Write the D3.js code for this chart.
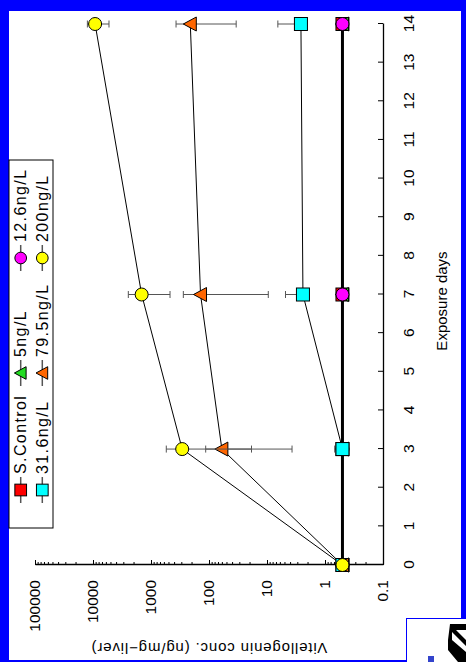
<!DOCTYPE html>
<html>
<head>
<meta charset="utf-8">
<script src="https://cdn.jsdelivr.net/npm/d3@7"></script>
<style>
body { margin: 0; background: #0000ff; }
svg { display: block; }
</style>
</head>
<body>
<div id="chart"></div>
<script>
const days = [0, 3, 7, 14];
const seriesNames = ["S.Control", "5ng/L", "12.6ng/L", "31.6ng/L", "79.5ng/L", "200ng/L"];
// mean vitellogenin per exposure day (ng/mg-liver)
const sControl = [0.5, 0.5, 0.5, 0.5];
const ng5 = [0.5, 0.5, 0.5, 0.5];
const ng12 = [0.5, 0.5, 0.5, 0.5];
const ng31 = [0.5, 0.5, 2.4, 2.6];
const ng79 = [0.5, 60, 140, 210];
const ng200 = [0.5, 290, 1450, 9200];
// error bar ends [low, high] per day (null = not drawn)
const noErr = [null, null, null, null];
const ng31Err = [null, [null, 0.68], [null, 4.8], [null, 6.5]];
const ng79Err = [null, [3.7, 114], [9.5, 277], [34, 370]];
const ng200Err = [null, [18.5, 545], [470, 2460], [5300, 12500]];
const yTicks = [0.1, 1, 10, 100, 1000, 10000, 100000];
const xTicks = [0, 1, 2, 3, 4, 5, 6, 7, 8, 9, 10, 11, 12, 13, 14];

const colors = ["#ff0000", "#22dd22", "#ff00ff", "#00ffff", "#ff6600", "#ffff00"];
const shapes = ["square", "triangle", "circle", "square", "triangle", "circle"];
const values = [sControl, ng5, ng12, ng31, ng79, ng200];
const errors = [noErr, noErr, noErr, ng31Err, ng79Err, ng200Err];

const W = 466, H = 662;
const font = "'Liberation Sans', Arial, sans-serif";

const svg = d3.select("#chart").append("svg")
  .attr("width", W)
  .attr("height", H);

svg.append("rect").attr("width", W).attr("height", H).attr("fill", "#0000ff");
svg.append("rect").attr("x", 9).attr("y", 11).attr("width", 452).attr("height", 649).attr("fill", "#fff");

// the whole chart is drawn turned a quarter turn counter-clockwise
const g = svg.append("g").attr("transform", `translate(0,${H}) rotate(-90)`);

const x = d3.scaleLinear().domain([0, 14]).range([97, 638]);
const y = d3.scaleLog().domain([0.1, 100000]).range([383, 35]);

const xAxis = g.append("g")
  .attr("transform", "translate(0,383)")
  .call(d3.axisBottom(x).tickValues(xTicks).tickSizeInner(-5).tickSizeOuter(0).tickPadding(20).tickFormat(d3.format("d")));

const yAxis = g.append("g")
  .attr("transform", `translate(${x(0)},0)`)
  .call(d3.axisLeft(y).tickValues(yTicks).tickSizeInner(-5).tickSizeOuter(0).tickPadding(15).tickFormat(d => d));

const minor = yTicks.slice(0, -1).flatMap(t => [2, 3, 4, 5, 6, 7, 8, 9].map(k => t * k));
g.append("g")
  .attr("transform", `translate(${x(0)},0)`)
  .call(d3.axisLeft(y).tickValues(minor).tickSizeInner(-3).tickSizeOuter(0).tickFormat(""))
  .call(a => a.select(".domain").remove());

g.selectAll(".tick line").attr("stroke", "#000").attr("stroke-width", 1);
g.selectAll(".domain").attr("stroke", "#000").attr("stroke-width", 1.3);
[xAxis, yAxis].forEach(a => a.attr("font-size", 15.5).attr("font-family", font));
g.selectAll(".tick text").attr("fill", "#000");

g.append("text")
  .attr("x", 361).attr("y", 447)
  .attr("text-anchor", "middle")
  .attr("font-family", font).attr("font-size", 15)
  .text("Exposure days");

g.append("text")
  .attr("transform", `translate(19,${(y.range()[0] + y.range()[1]) / 2}) rotate(-90)`)
  .attr("text-anchor", "middle")
  .attr("font-family", font).attr("font-size", 15)
  .attr("letter-spacing", 0.85)
  .text("Vitellogenin conc. (ng/mg\u2212liver)");

function marker(sel, shape, color, k) {
  if (shape === "square") {
    sel.append("rect").attr("x", -6.5 * k).attr("y", -6.5 * k).attr("width", 13 * k).attr("height", 13 * k);
  } else if (shape === "circle") {
    sel.append("circle").attr("r", 6.5 * k);
  } else {
    sel.append("path").attr("d", `M0,${-7 * k}L${7 * k},${6 * k}L${-7 * k},${6 * k}Z`);
  }
  sel.selectAll("*").attr("fill", color).attr("stroke", "#000").attr("stroke-width", 1);
}

const line = d3.line().x((d, i) => x(days[i])).y(d => y(d));

values.forEach((vals, s) => {
  g.append("path")
    .datum(vals)
    .attr("d", line)
    .attr("fill", "none")
    .attr("stroke", "#000")
    .attr("stroke-width", s === 0 ? 3 : 1);
});

values.forEach((vals, s) => {
  const eg = g.append("g").attr("stroke", "#555").attr("stroke-width", 1);
  errors[s].forEach((e, i) => {
    if (!e) return;
    const cx = x(days[i]);
    const lo = e[0] == null ? vals[i] : e[0];
    eg.append("line").attr("x1", cx).attr("x2", cx).attr("y1", y(lo)).attr("y2", y(e[1]));
    e.forEach(end => {
      if (end == null) return;
      eg.append("line").attr("x1", cx - 3.5).attr("x2", cx + 3.5).attr("y1", y(end)).attr("y2", y(end));
    });
  });
  vals.forEach((v, i) => {
    g.append("g")
      .attr("transform", `translate(${x(days[i])},${y(v)})`)
      .call(marker, shapes[s], colors[s], 1);
  });
});

// legend
const legend = g.append("g");
legend.append("rect")
  .attr("x", 134).attr("y", 9).attr("width", 368).attr("height", 44)
  .attr("fill", "#fff").attr("stroke", "#000").attr("stroke-width", 1);
const colU = [172, 289, 404], rowV = [20.7, 42.3];
seriesNames.forEach((name, i) => {
  const u = colU[i % 3], v = rowV[Math.floor(i / 3)];
  legend.append("line")
    .attr("x1", u - 13).attr("x2", u + 13).attr("y1", v).attr("y2", v)
    .attr("stroke", "#555").attr("stroke-width", 1.5);
  legend.append("g").attr("transform", `translate(${u},${v})`).call(marker, shapes[i], colors[i], 0.9);
  legend.append("text")
    .attr("x", u + 16).attr("y", v)
    .attr("dominant-baseline", "central")
    .attr("font-family", font).attr("font-size", 16)
    .attr("letter-spacing", 1.4)
    .text(name);
});

// logo corner
const logo = svg.append("g");
logo.append("rect").attr("x", 406.5).attr("y", 618.5).attr("width", 62).attr("height", 46)
  .attr("fill", "#fff").attr("stroke", "#0000ff").attr("stroke-width", 1);
logo.append("path")
  .attr("d", "M450,624L466,624L466,630L456,630L466,640L466,646L452,632L452,640L466,652L466,662L458,662L448,650L448,640Z")
  .attr("fill", "#000");
logo.append("rect").attr("x", 428).attr("y", 656).attr("width", 6).attr("height", 6).attr("fill", "#3344cc");
</script>
</body>
</html>
